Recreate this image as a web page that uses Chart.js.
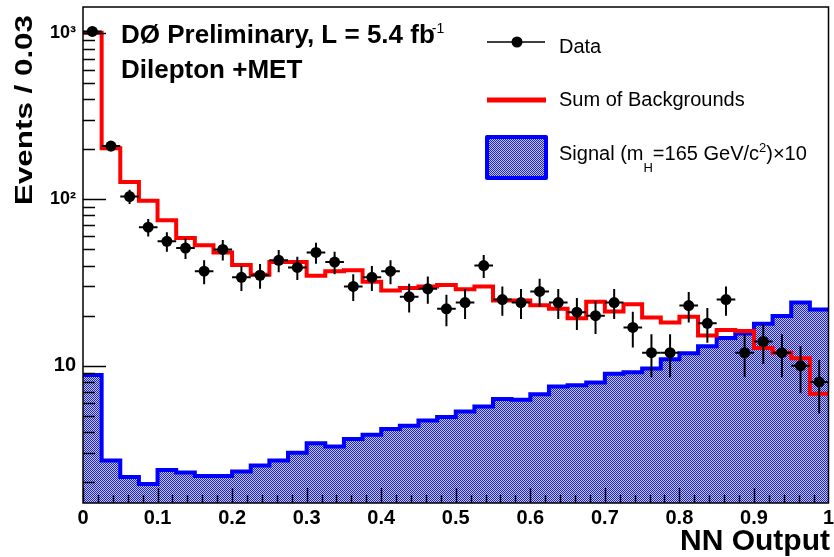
<!DOCTYPE html>
<html>
<head>
<meta charset="utf-8">
<script src="https://cdn.jsdelivr.net/npm/chart.js@4.4.1/dist/chart.umd.min.js"></script>
<style>
  html, body { margin: 0; padding: 0; background: #fff; }
  #wrap { width: 834px; height: 557px; }
</style>
</head>
<body>
<div id="wrap"><canvas id="nn-chart" width="834" height="557"></canvas></div>
<script>
// NN output histogram, 40 bins of 0.025
const binEdges = [0, 0.025, 0.05, 0.075, 0.1, 0.125, 0.15, 0.175, 0.2, 0.225,
  0.25, 0.275, 0.3, 0.325, 0.35, 0.375, 0.4, 0.425, 0.45, 0.475,
  0.5, 0.525, 0.55, 0.575, 0.6, 0.625, 0.65, 0.675, 0.7, 0.725,
  0.75, 0.775, 0.8, 0.825, 0.85, 0.875, 0.9, 0.925, 0.95, 0.975, 1];

const dataCounts = [1020, 209, 104, 68, 56, 51, 37, 50, 34, 35,
  43, 39, 48, 42, 30, 34, 37, 26, 29, 22,
  24, 40, 25, 24, 28, 24, 21, 20, 24, 17,
  12, 12, 23, 18, 25, 12, 14, 12, 10, 8];

const bkgSum = [1000, 203, 127, 98, 75, 58.5, 53, 48, 40.4, 35.2,
  42, 42, 34.7, 37, 37.5, 32, 28.3, 29.3, 30, 30.6,
  28.8, 30, 24.7, 24.7, 23.1, 22, 19.3, 24.3, 21.2, 23.4,
  19.5, 18.2, 19.7, 15.2, 16.4, 16.2, 12.8, 12.0, 11.1, 6.8];

const signalX10 = [8.8, 2.7, 2.15, 1.95, 2.37, 2.29, 2.18, 2.18, 2.32, 2.52,
  2.7, 3.01, 3.43, 3.28, 3.63, 3.85, 4.17, 4.37, 4.69, 4.92,
  5.31, 5.69, 6.31, 6.25, 6.76, 7.51, 7.65, 7.94, 8.95, 9.15,
  9.65, 10.97, 11.9, 13.1, 14.7, 15.65, 17.9, 19.9, 24.0, 21.8];

const xTickValues = [0, 0.1, 0.2, 0.3, 0.4, 0.5, 0.6, 0.7, 0.8, 0.9, 1];
const xTickLabels = ['0', '0.1', '0.2', '0.3', '0.4', '0.5', '0.6', '0.7', '0.8', '0.9', '1'];
const yTickValues = [10, 100, 1000];
const yTickLabels = ['10', '10²', '10³'];

const FONT = '"Liberation Sans", Arial, Helvetica, sans-serif';

// dotted fill like ROOT style 3001
function dotPattern() {
  const c = document.createElement('canvas');
  c.width = 2; c.height = 2;
  const g = c.getContext('2d');
  g.fillStyle = '#c2c4f2';
  g.fillRect(0, 0, 2, 2);
  g.fillStyle = '#1f24c8';
  g.fillRect(0, 0, 1, 1);
  g.fillRect(1, 1, 1, 1);
  return g.createPattern(c, 'repeat');
}
const sigPattern = dotPattern();

// one point per low edge + closing point at the last upper edge
function histPoints(values) {
  const pts = values.map((v, i) => ({ x: binEdges[i], y: v }));
  pts.push({ x: binEdges[values.length], y: values[values.length - 1] });
  return pts;
}
const dataPoints = dataCounts.map((n, i) => ({ x: (binEdges[i] + binEdges[i + 1]) / 2, y: n }));

const decorations = {
  id: 'decorations',
  afterDatasetsDraw(chart) {
    const { ctx, chartArea: a, scales: { x, y } } = chart;
    ctx.save();
    ctx.beginPath();
    ctx.rect(a.left, a.top, a.right - a.left, a.bottom - a.top);
    ctx.clip();

    // error bars: sqrt(N) vertical, bin width horizontal
    ctx.strokeStyle = '#000';
    ctx.lineWidth = 2;
    dataCounts.forEach((n, i) => {
      const err = Math.sqrt(n);
      const px = x.getPixelForValue((binEdges[i] + binEdges[i + 1]) / 2);
      const py = y.getPixelForValue(n);
      ctx.beginPath();
      ctx.moveTo(px, y.getPixelForValue(n + err));
      ctx.lineTo(px, y.getPixelForValue(Math.max(n - err, 0.01)));
      ctx.moveTo(x.getPixelForValue(binEdges[i]), py);
      ctx.lineTo(x.getPixelForValue(binEdges[i + 1]), py);
      ctx.stroke();
    });

    // tick marks drawn inside the frame
    ctx.lineWidth = 1.5;
    ctx.strokeStyle = '#000';
    ctx.beginPath();
    for (let d = 1; d <= 1000; d *= 10) {
      for (let k = 1; k <= 9; k++) {
        const v = d * k;
        if (v < y.min || v > y.max) continue;
        const py = Math.round(y.getPixelForValue(v)) + 0.5;
        const len = k === 1 ? 23 : 12;
        ctx.moveTo(a.left, py);
        ctx.lineTo(a.left + len, py);
      }
    }
    for (let i = 0; i <= 50; i++) {
      const px = Math.round(x.getPixelForValue(i * 0.02)) + 0.5;
      const len = i % 5 === 0 ? 15 : 8;
      ctx.moveTo(px, a.bottom);
      ctx.lineTo(px, a.bottom - len);
    }
    ctx.stroke();
    ctx.restore();

    // frame
    ctx.save();
    ctx.strokeStyle = '#000';
    ctx.lineWidth = 1.5;
    ctx.strokeRect(a.left, a.top, a.right - a.left, a.bottom - a.top);
    ctx.restore();
  },
  afterDraw(chart) {
    const ctx = chart.ctx;
    ctx.save();
    ctx.fillStyle = '#000';
    ctx.textAlign = 'left';
    ctx.textBaseline = 'alphabetic';

    // header
    ctx.font = `bold 26px ${FONT}`;
    const head = 'DØ Preliminary, L = 5.4 fb';
    ctx.fillText(head, 121, 43);
    const hw = ctx.measureText(head).width;
    ctx.font = `14px ${FONT}`;
    ctx.fillText('-1', 121 + hw - 3, 33);
    ctx.font = `bold 26px ${FONT}`;
    ctx.fillText('Dilepton +MET', 121, 78);

    // legend
    ctx.strokeStyle = '#000';
    ctx.lineWidth = 1.5;
    ctx.beginPath();
    ctx.moveTo(487, 42);
    ctx.lineTo(545, 42);
    ctx.stroke();
    ctx.beginPath();
    ctx.arc(517, 42, 5.5, 0, Math.PI * 2);
    ctx.fill();

    ctx.strokeStyle = '#ff0000';
    ctx.lineWidth = 5;
    ctx.beginPath();
    ctx.moveTo(487, 100);
    ctx.lineTo(546, 100);
    ctx.stroke();

    ctx.fillStyle = sigPattern;
    ctx.fillRect(487, 137, 59, 41);
    ctx.strokeStyle = '#0000ff';
    ctx.lineWidth = 4;
    ctx.lineJoin = 'round';
    ctx.strokeRect(487, 137, 59, 41);

    ctx.fillStyle = '#000';
    ctx.font = `20px ${FONT}`;
    ctx.fillText('Data', 559, 53);
    ctx.fillText('Sum of Backgrounds', 559, 106);
    let sx = 559;
    const part = (txt, size, base) => {
      ctx.font = `${size}px ${FONT}`;
      ctx.fillText(txt, sx, base);
      sx += ctx.measureText(txt).width;
    };
    part('Signal (m', 20, 160);
    part('H', 13, 172);
    part('=165 GeV/c', 20, 160);
    part('2', 13, 152);
    part(')\u00d710', 20, 160);

    // axis titles
    ctx.font = `bold 30px ${FONT}`;
    ctx.textAlign = 'right';
    ctx.fillText('NN Output', 830, 550);

    ctx.save();
    ctx.translate(32, 15);
    ctx.rotate(-Math.PI / 2);
    ctx.font = `bold 24px ${FONT}`;
    const tw = ctx.measureText('Events / 0.03').width;
    ctx.scale(190 / tw, 1);
    ctx.textAlign = 'right';
    ctx.fillText('Events / 0.03', 0, 0);
    ctx.restore();

    ctx.restore();
  }
};

new Chart(document.getElementById('nn-chart'), {
  type: 'scatter',
  data: {
    datasets: [
      {
        label: 'Data',
        data: dataPoints,
        showLine: false,
        pointRadius: 5.5,
        pointBackgroundColor: '#000',
        pointBorderWidth: 0
      },
      {
        label: 'Sum of Backgrounds',
        type: 'line',
        data: histPoints(bkgSum),
        stepped: 'before',
        borderColor: '#ff0000',
        borderWidth: 4,
        pointRadius: 0,
        fill: false
      },
      {
        label: 'Signal (mH=165 GeV/c2)x10',
        type: 'line',
        data: histPoints(signalX10),
        stepped: 'before',
        borderColor: '#0000ff',
        borderWidth: 4,
        pointRadius: 0,
        fill: 'start',
        backgroundColor: sigPattern
      }
    ]
  },
  options: {
    responsive: false,
    devicePixelRatio: 1,
    animation: false,
    events: [],
    layout: { padding: { top: 7, right: 4, left: 0, bottom: 0 } },
    plugins: { legend: { display: false }, tooltip: { enabled: false } },
    scales: {
      x: {
        type: 'linear',
        min: 0,
        max: 1,
        afterBuildTicks: s => { s.ticks = xTickValues.map(v => ({ value: v })); },
        afterFit: s => { s.height = 54; s.paddingLeft = 0; s.paddingRight = 0; },
        ticks: {
          callback: (v, i) => xTickLabels[i],
          font: { family: FONT, size: 20, weight: 'bold' },
          color: '#000',
          padding: 3,
          maxRotation: 0,
          autoSkip: false
        },
        grid: { display: false, drawTicks: false },
        border: { display: false }
      },
      y: {
        type: 'logarithmic',
        min: 1.5,
        max: 1430,
        afterBuildTicks: s => { s.ticks = yTickValues.map(v => ({ value: v })); },
        afterFit: s => { s.width = 83; s.paddingTop = 0; s.paddingBottom = 0; },
        ticks: {
          callback: (v, i) => yTickLabels[i],
          font: c => ({ family: FONT, weight: 'bold', size: c.tick && c.tick.value === 10 ? 20 : 18 }),
          color: '#000',
          padding: 7
        },
        grid: { display: false, drawTicks: false },
        border: { display: false }
      }
    }
  },
  plugins: [decorations]
});
</script>
</body>
</html>
